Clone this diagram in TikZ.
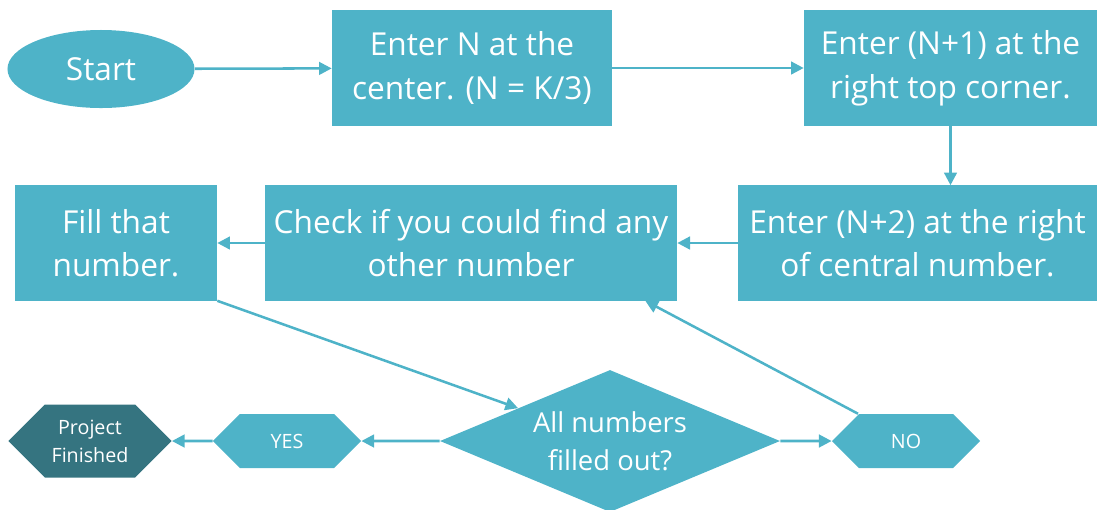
\documentclass[tikz,border=0pt]{standalone}
\usepackage{fontspec}
\setmainfont{Open Sans}
\usetikzlibrary{shapes.geometric,shapes.symbols,arrows.meta,calc}
\definecolor{tealbox}{HTML}{4EB3C8}
\definecolor{tealdark}{HTML}{357480}
\tikzset{
  flow/.style={fill=tealbox, text=white, align=center, inner sep=0pt,
    font=\fontsize{22.5}{31}\selectfont},
  stepbox/.style={flow, rectangle, minimum height=2.875cm},
  hexa/.style={flow, signal, signal to=east and west, signal pointer angle=90,
    font=\fontsize{14}{20}\selectfont, minimum width=3.7cm, minimum height=1.35cm},
  link/.style={draw=tealbox, line width=1.8pt, -{Triangle[length=9pt,width=9pt,fill=tealbox]}}
}
\begin{document}
\begin{tikzpicture}[x=0.025cm, y=-0.025cm]
  \useasboundingbox (0,0) rectangle (1097,509);
  % top row
  \node[flow, ellipse, minimum width=4.675cm, minimum height=1.95cm] (start) at (101,69) {Start};
  \node[stepbox, minimum width=7cm] (center) at (472,68) {Enter N at the\\center. (N = K/3)};
  \node[stepbox, minimum width=7.325cm] (topright) at (950.5,68) {Enter (N+1) at the\\right top corner.};
  % middle row
  \node[stepbox, minimum width=8.975cm] (right) at (917.5,243) {Enter (N+2) at the right\\of central number.};
  \node[stepbox, minimum width=10.3cm] (check) at (471,243) {Check if you could find any\\other number};
  \node[stepbox, minimum width=5.05cm] (fill) at (116,243) {Fill that\\number.};
  % bottom row
  \node[flow, diamond, shape aspect=2.4, minimum width=8.5cm, minimum height=3.55cm,
    font=\fontsize{19.5}{27}\selectfont] (done) at (610,441) {All numbers\\filled out?};
  \node[hexa] (no) at (906,441) {NO};
  \node[hexa] (yes) at (287,441) {YES};
  \node[hexa, fill=tealdark, minimum width=4.075cm, minimum height=1.825cm] (finish) at (90,441) {Project\\Finished};
  % connectors
  \draw[link] (start) -- (center);
  \draw[link] (center) -- (topright);
  \draw[link] (topright) -- (topright |- right.north);
  \draw[link] (right) -- (check);
  \draw[link] (check) -- (fill);
  \draw[link] (fill.south east) -- (done);
  \draw[link] (done) -- (no);
  \draw[link] ([xshift=-1.2cm]no.north) -- ([xshift=-0.8cm]check.south east);
  \draw[link] (done) -- (yes);
  \draw[link] (yes) -- (finish);
\end{tikzpicture}
\end{document}
